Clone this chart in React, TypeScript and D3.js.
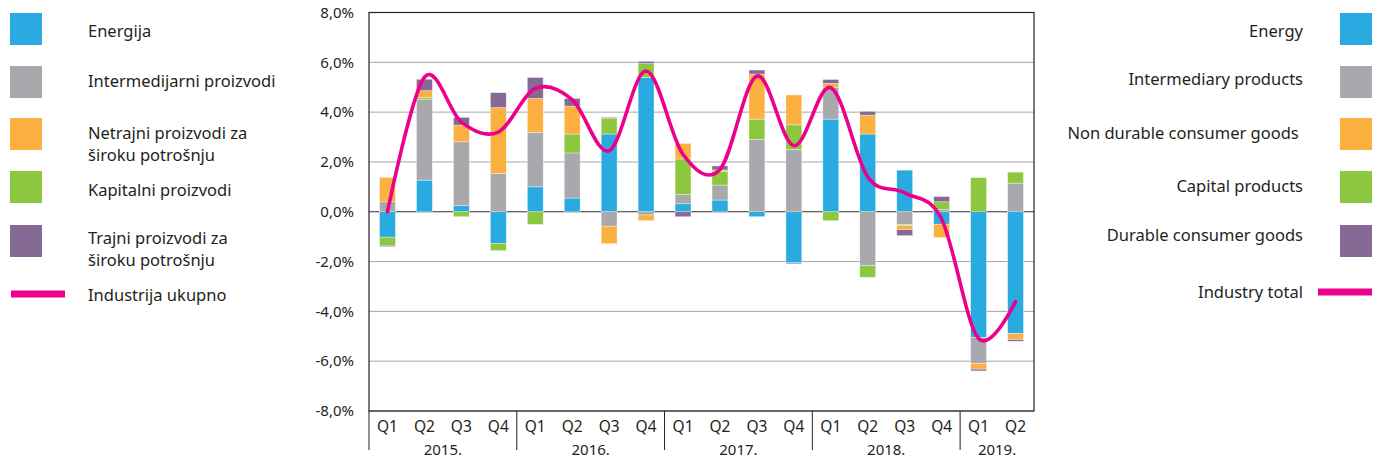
import React from 'react';
import * as d3 from 'd3';

const quarters = ['Q1','Q2','Q3','Q4','Q1','Q2','Q3','Q4','Q1','Q2','Q3','Q4','Q1','Q2','Q3','Q4','Q1','Q2'];
const years = ['2015.','2016.','2017.','2018.','2019.'];
const yearSpans = [4, 4, 4, 4, 2];

const energy = [-1.02, 1.27, 0.24, -1.27, 1.0, 0.55, 3.12, 5.39, 0.32, 0.47, -0.2, -2.05, 3.72, 3.12, 1.67, -0.5, -5.05, -4.89];
const intermediate = [0.40, 3.25, 2.57, 1.54, 2.18, 1.81, -0.58, -0.13, 0.37, 0.6, 2.9, 2.5, 1.27, -2.17, -0.51, 0.09, -1.04, 1.15];
const nondurable = [0.98, 0.27, 0.67, 2.64, 1.37, 1.12, -0.70, -0.23, 0.62, 0.07, 1.81, 1.2, 0.16, 0.76, -0.16, -0.54, -0.23, -0.24];
const capital = [-0.33, 0.07, -0.2, -0.29, -0.51, 0.76, 0.63, 0.56, 1.43, 0.54, 0.82, 0.99, -0.36, -0.46, -0.05, 0.31, 1.37, 0.44];
const durable = [-0.05, 0.46, 0.31, 0.60, 0.84, 0.31, 0.04, 0.09, -0.2, 0.16, 0.16, -0.04, 0.16, 0.15, -0.24, 0.21, -0.07, -0.07];
const total = [0.0, 5.4, 3.6, 3.2, 4.95, 4.5, 2.45, 5.65, 2.3, 1.7, 5.45, 2.65, 4.98, 1.4, 0.76, -0.3, -5.09, -3.61];

const yTicks = [8, 6, 4, 2, 0, -2, -4, -6, -8];

const legendLeft = [
  { key: 'energy', lines: ['Energija'] },
  { key: 'intermediate', lines: ['Intermedijarni proizvodi'] },
  { key: 'nondurable', lines: ['Netrajni proizvodi za', 'široku potrošnju'] },
  { key: 'capital', lines: ['Kapitalni proizvodi'] },
  { key: 'durable', lines: ['Trajni proizvodi za', 'široku potrošnju'] },
];
const legendRight = [
  { key: 'energy', text: 'Energy' },
  { key: 'intermediate', text: 'Intermediary products' },
  { key: 'nondurable', text: 'Non durable consumer goods ' },
  { key: 'capital', text: 'Capital products' },
  { key: 'durable', text: 'Durable consumer goods' },
];

const colors: Record<string, string> = {
  energy: '#29ABE2',
  intermediate: '#A7A9AC',
  nondurable: '#FBB040',
  capital: '#8DC63F',
  durable: '#846A94',
};
const lineColor = '#EC008C';

const stackKeys = ['energy', 'intermediate', 'capital', 'nondurable', 'durable'];

const FONT = "'Noto Sans', sans-serif";

export default function App() {
  const W = 1382, H = 461;
  const left = 369, right = 1034, top = 12.5, bottom = 411;

  const rows = quarters.map((q, i) => ({
    idx: String(i),
    energy: energy[i],
    intermediate: intermediate[i],
    nondurable: nondurable[i],
    capital: capital[i],
    durable: durable[i],
  }));

  const x = d3.scaleBand<string>()
    .domain(rows.map(r => r.idx))
    .range([left, right])
    .paddingInner(0.57)
    .paddingOuter(0.285);
  const y = d3.scaleLinear().domain([-8, 8]).range([bottom, top]);

  const series = d3.stack<any>()
    .keys(stackKeys)
    .offset(d3.stackOffsetDiverging)(rows);

  const line = d3.line<number>()
    .x((_, i) => (x(String(i)) as number) + x.bandwidth() / 2)
    .y(d => y(d))
    .curve(d3.curveCatmullRom.alpha(0));

  const step = x.step();
  const fmt = (v: number) => (v < 0 ? '-' : '') + Math.abs(v).toFixed(1).replace('.', ',') + '%';

  const leftSquareY = [13, 66, 118, 171, 225];
  const leftTextY = [[31], [81], [133, 155], [190], [238, 260]];
  const rightTextY = [31, 79, 133, 186, 235];
  const LF = 16.5;

  let acc = 0;
  const yearBounds = yearSpans.map(s => { const a = acc; acc += s; return [a, acc]; });

  return (
    <svg width={W} height={H} style={{ position: 'absolute', left: 0, top: 0, background: '#fff' }} fontFamily={FONT}>
      {/* grid lines */}
      {yTicks.map(t => (
        <line key={'g' + t} x1={left} x2={right} y1={y(t)} y2={y(t)}
          stroke={t === 0 ? '#333' : '#a6a6a6'} strokeWidth={1} />
      ))}
      {/* bars */}
      {series.map(s => (
        <g key={s.key} fill={colors[s.key]}>
          {s.map((d, i) => {
            const h = Math.abs(y(d[0]) - y(d[1]));
            if (h < 0.01) return null;
            return (
              <rect key={i} x={x(String(i))} width={x.bandwidth()}
                y={Math.min(y(d[0]), y(d[1]))} height={h}
                stroke="#ffffff" strokeOpacity={0.6} strokeWidth={0.6} />
            );
          })}
        </g>
      ))}
      {/* frame */}
      <rect x={left} y={top} width={right - left} height={bottom - top} fill="none" stroke="#222" strokeWidth={1.2} />
      {/* total line */}
      <path d={line(total) || ''} fill="none" stroke={lineColor} strokeWidth={3.6} strokeLinejoin="round" strokeLinecap="round" />
      {/* y labels */}
      {yTicks.map(t => (
        <text key={'yl' + t} x={354} y={y(t)} dy="0.35em" textAnchor="end" fontSize={15} fill="#231f20">{fmt(t)}</text>
      ))}
      {/* x quarter labels */}
      {quarters.map((q, i) => (
        <text key={'q' + i} x={(x(String(i)) as number) + x.bandwidth() / 2} y={427} dy="0.35em" textAnchor="middle" fontSize={15.5} fill="#231f20">{q}</text>
      ))}
      {/* year separators */}
      {yearBounds.map(([a], i) => (
        <line key={'ys' + i} x1={left + a * step} x2={left + a * step} y1={bottom} y2={450} stroke="#222" strokeWidth={1} />
      ))}
      {years.map((yr, i) => {
        const [a, b] = yearBounds[i];
        return (
          <text key={'yr' + i} x={left + (a + b) / 2 * step} y={450} dy="0.35em" textAnchor="middle" fontSize={15} fill="#231f20">{yr}</text>
        );
      })}
      {/* left legend */}
      {legendLeft.map((l, i) => (
        <g key={'ll' + i}>
          <rect x={10} y={leftSquareY[i]} width={32} height={32} fill={colors[l.key]} />
          {l.lines.map((t, j) => (
            <text key={j} x={88} y={leftTextY[i][j]} dy="0.35em" fontSize={LF} fill="#231f20">{t}</text>
          ))}
        </g>
      ))}
      <line x1={11} x2={65} y1={294} y2={294} stroke={lineColor} strokeWidth={7} />
      <text x={88} y={295} dy="0.35em" fontSize={LF} fill="#231f20">Industrija ukupno</text>
      {/* right legend */}
      {legendRight.map((l, i) => (
        <g key={'lr' + i}>
          <rect x={1340} y={leftSquareY[i]} width={32} height={32} fill={colors[l.key]} />
          <text x={1303} y={rightTextY[i]} dy="0.35em" textAnchor="end" fontSize={LF} fill="#231f20" style={{ whiteSpace: 'pre' }}>{l.text}</text>
        </g>
      ))}
      <line x1={1318} x2={1372} y1={292} y2={292} stroke={lineColor} strokeWidth={7} />
      <text x={1303} y={292} dy="0.35em" textAnchor="end" fontSize={LF} fill="#231f20">Industry total</text>
    </svg>
  );
}
